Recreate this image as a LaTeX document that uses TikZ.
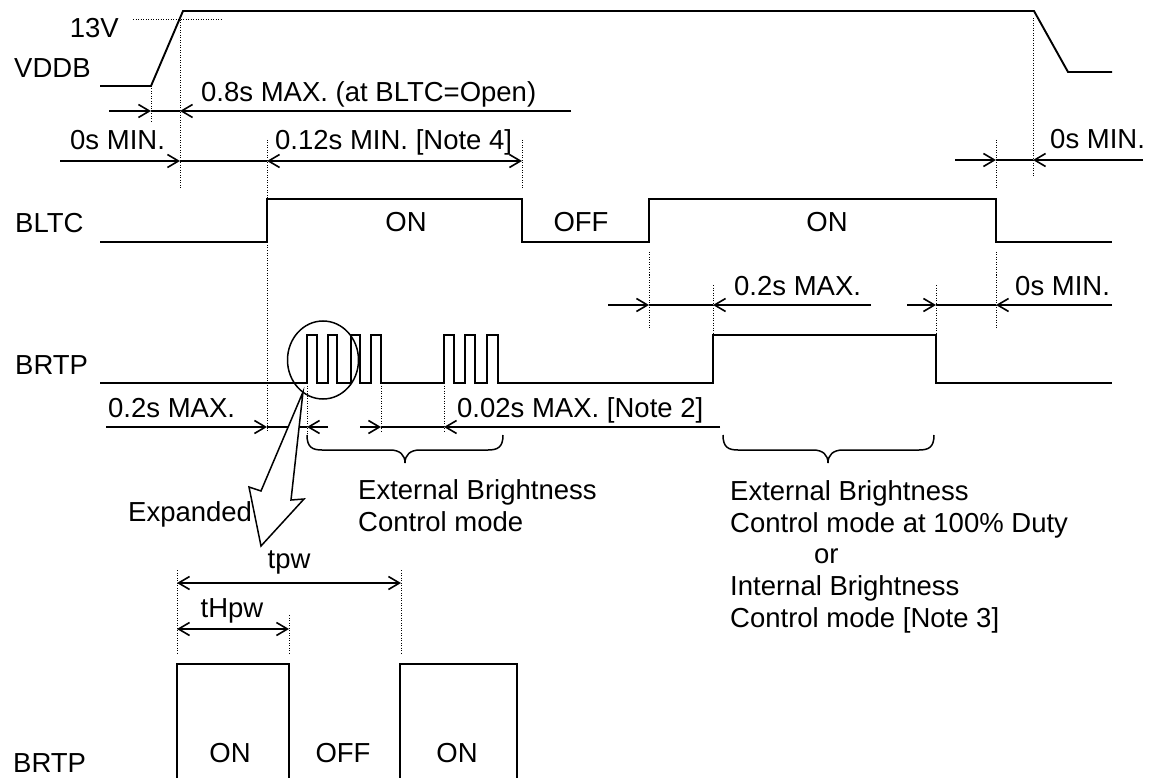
\documentclass[tikz,border=0pt]{standalone}
\usepackage{fontspec}
\setmainfont{Liberation Sans}
\usetikzlibrary{arrows.meta}
\begin{document}
\begin{tikzpicture}[x=1pt,y=-1pt,
  wave/.style={line width=1.9pt, line join=miter},
  dim/.style={line width=1.6pt},
  arr/.style={dim,-{Straight Barb[length=11pt,width=13pt]}},
  darr/.style={dim,{Straight Barb[length=11pt,width=13pt]}-{Straight Barb[length=11pt,width=13pt]}},
  dotl/.style={line width=1pt, dash pattern=on 1pt off 1.5pt},
  lbl/.style={inner sep=0pt, anchor=base west, font=\fontsize{27.5}{32}\selectfont},
  clbl/.style={inner sep=0pt, anchor=base, font=\fontsize{27.5}{32}\selectfont},
  brc/.style={line width=1.5pt}]
\useasboundingbox (0,0) rectangle (1157,778);

% ---------- VDDB ----------
\draw[wave] (100,86) -- (151,86) -- (183,11) -- (1034,11) -- (1068,72) -- (1112,72);
\node[lbl] (vddb) at (14,78) {VDDB};
\node[lbl, anchor=base east] (v13) at (119,38) {13V};
\draw[dotl] (133,20) -- (222,20);

% ---------- BLTC ----------
\draw[wave] (100,242) -- (267,242) -- (267,199) -- (522,199) -- (522,242) -- (649,242) -- (649,199) -- (996,199) -- (996,242) -- (1112,242);
\node[lbl] (bltc) at (15,233) {BLTC};
\node[clbl] (on1) at (406,232) {ON};
\node[clbl] (off1) at (581,232) {OFF};
\node[clbl] (on2) at (827,232) {ON};

% ---------- BRTP ----------
\draw[wave] (100,383) -- (307,383) -- (307,335) -- (317,335) -- (317,383) -- (328,383) -- (328,335) -- (337,335) -- (337,383)
  -- (351,383) -- (351,335) -- (360,335) -- (360,383) -- (371,383) -- (371,335) -- (381,335) -- (381,383)
  -- (444,383) -- (444,335) -- (454,335) -- (454,383) -- (465,383) -- (465,335) -- (475,335) -- (475,383)
  -- (487,383) -- (487,335) -- (498,335) -- (498,383) -- (713,383) -- (713,335) -- (936,335) -- (936,383) -- (1112,383);
\node[lbl] (brtp) at (15,374) {BRTP};

% ---------- dotted markers ----------
\draw[dotl] (180,20) -- (180,188);
\draw[dotl] (151,86) -- (151,122);
\draw[dotl] (267,140) -- (267,432);
\draw[dotl] (522,140) -- (522,188);
\draw[dotl] (1033,18) -- (1033,177);
\draw[dotl] (996,140) -- (996,188);
\draw[dotl] (996,252) -- (996,328);
\draw[dotl] (649,252) -- (649,328);
\draw[dotl] (713,285) -- (713,335);
\draw[dotl] (936,285) -- (936,335);
\draw[dotl] (307,383) -- (307,435);
\draw[dotl] (381,383) -- (381,432);
\draw[dotl] (444,383) -- (444,432);

% ---------- coordinates for dimension lines ----------
\coordinate (a1) at (109,111); \coordinate (a2) at (151,111); \coordinate (a3) at (180,111); \coordinate (a4) at (571,111);
\coordinate (b1) at (60,161); \coordinate (b2) at (180,161); \coordinate (b3) at (267,161); \coordinate (b4) at (522,161);
\coordinate (b5) at (955,160); \coordinate (b6) at (996,160); \coordinate (b7) at (1033,160); \coordinate (b8) at (1143,160);
\coordinate (c1) at (608,305); \coordinate (c2) at (649,305); \coordinate (c3) at (713,305); \coordinate (c4) at (871,305);
\coordinate (c5) at (907,305); \coordinate (c6) at (936,305); \coordinate (c7) at (996,305); \coordinate (c8) at (1112,305);
\coordinate (d1) at (106,427); \coordinate (d2) at (267,427); \coordinate (d3) at (307,427); \coordinate (d4) at (328,427);
\coordinate (d5) at (360,427); \coordinate (d6) at (381,427); \coordinate (d7) at (444,427); \coordinate (d8) at (720,427);

\draw[arr] (a1) -- (a2); \draw[dim] (a2) -- (a3); \draw[arr] (a4) -- (a3);
\draw[arr] (b1) -- (b2); \draw[dim] (b2) -- (b3); \draw[darr] (b3) -- (b4);
\draw[arr] (b5) -- (b6); \draw[dim] (b6) -- (b7); \draw[arr] (b8) -- (b7);
\draw[arr] (c1) -- (c2); \draw[dim] (c2) -- (c3); \draw[arr] (c4) -- (c3);
\draw[arr] (c5) -- (c6); \draw[dim] (c6) -- (c7); \draw[arr] (c8) -- (c7);
\draw[arr] (d1) -- (d2); \draw[dim] (d2) -- (d3); \draw[arr] (d4) -- (d3);
\draw[arr] (d5) -- (d6); \draw[dim] (d6) -- (d7); \draw[arr] (d8) -- (d7);

% ---------- dimension labels ----------
\node[lbl] (t08) at (201,102) {0.8s MAX. (at BLTC=Open)};
\node[lbl] (t0a) at (70,150) {0s MIN.};
\node[lbl] (t012) at (275,150) {0.12s MIN. [Note 4]};
\node[lbl] (t0b) at (1050,149) {0s MIN.};
\node[lbl] (t02a) at (734,295) {0.2s MAX.};
\node[lbl] (t0c) at (1015,295) {0s MIN.};
\node[lbl] (t02b) at (108,417) {0.2s MAX.};
\node[lbl] (t002) at (457,417) {0.02s MAX. [Note 2]};

% ---------- braces ----------
\draw[brc] (307,435) .. controls (307,447) and (312,450) .. (322,450) -- (390,450)
  .. controls (400,450) and (405,455) .. (405,463) .. controls (405,455) and (410,450) .. (420,450)
  -- (488,450) .. controls (498,450) and (503,447) .. (503,435);
\draw[brc] (723,435) .. controls (723,447) and (728,450) .. (738,450) -- (813,450)
  .. controls (823,450) and (828,455) .. (828,463) .. controls (828,455) and (833,450) .. (843,450)
  -- (919,450) .. controls (929,450) and (934,447) .. (934,435);

\node[lbl] (ext1a) at (358,499) {External Brightness};
\node[lbl] (ext1b) at (358,531) {Control mode};
\node[lbl] (ext2a) at (730,500) {External Brightness};
\node[lbl] (ext2b) at (730,532) {Control mode at 100\% Duty};
\node[lbl] (ext2c) at (814,563) {or};
\node[lbl] (ext2d) at (730,595) {Internal Brightness};
\node[lbl] (ext2e) at (730,627) {Control mode [Note 3]};

% ---------- magnifier ----------
\draw[line width=1.5pt] (323,360) ellipse [x radius=35.5pt, y radius=39pt];
\draw[line width=1.5pt, line join=miter, fill=white] (303,392) -- (261,491) -- (249,487) -- (261,546) -- (304,499) -- (291,500) -- cycle;
\node[lbl] (exp) at (128,521) {Expanded};

% ---------- expanded view ----------
\draw[dotl] (177,570) -- (177,655);
\draw[dotl] (401,570) -- (401,655);
\draw[dotl] (289,615) -- (289,655);
\coordinate (e1) at (177,583); \coordinate (e2) at (401,583);
\coordinate (f1) at (177,629); \coordinate (f2) at (289,629);
\draw[darr] (e1) -- (e2);
\draw[darr] (f1) -- (f2);
\node[clbl] (tpw) at (289,568) {tpw};
\node[clbl] (thpw) at (232,617) {tHpw};
\draw[wave] (177,778) -- (177,664) -- (289,664) -- (289,778);
\draw[wave] (400,778) -- (400,664) -- (517,664) -- (517,778);
\node[clbl] (eon1) at (230,762) {ON};
\node[clbl] (eoff) at (343,762) {OFF};
\node[clbl] (eon2) at (457,762) {ON};
\node[lbl] (brtp2) at (13,772) {BRTP};
\end{tikzpicture}
\end{document}
